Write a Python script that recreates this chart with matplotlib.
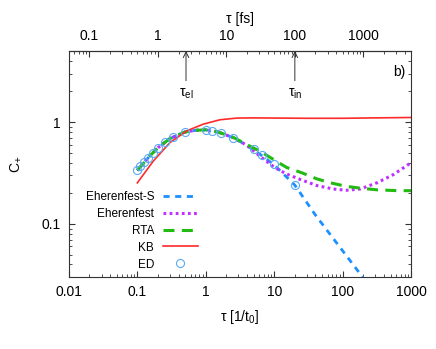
import matplotlib
matplotlib.use("Agg")
import matplotlib.pyplot as plt
import numpy as np

plt.rcParams['font.family'] = ['Liberation Sans', 'DejaVu Sans']
plt.rcParams['mathtext.fontset'] = 'custom'
plt.rcParams['mathtext.rm'] = 'Liberation Sans'

# ED (exact diagonalization) points
tau_ed = [0.1, 0.111, 0.125, 0.143, 0.167, 0.2, 0.25, 0.333, 0.5, 1.0,
          1.25, 1.667, 2.5, 5.0, 6.667, 10.0, 20.0]
c_ed = [0.335, 0.369, 0.405, 0.447, 0.501, 0.561, 0.638, 0.716, 0.80, 0.84,
        0.82, 0.79, 0.705, 0.54, 0.47, 0.384, 0.243]

# Eherenfest-S
tau_ehs = [0.1, 0.15, 0.2, 0.3, 0.5, 0.7, 1.0, 1.5, 2.5, 4.0, 6.0, 10.0,
           20.0, 40.0, 90.0, 220.0]
c_ehs = [0.335, 0.46, 0.56, 0.69, 0.80, 0.83, 0.84, 0.80, 0.705, 0.59,
         0.49, 0.38, 0.24, 0.122, 0.0596, 0.027]

# Eherenfest
tau_eh = [0.1, 0.15, 0.2, 0.3, 0.5, 0.7, 1.0, 1.5, 2.5, 4.0, 6.0, 10.0,
          15.0, 24.0, 42.0, 73.0, 114.0, 180.0, 315.0, 550.0, 1000.0]
c_eh = [0.335, 0.46, 0.56, 0.69, 0.80, 0.83, 0.84, 0.80, 0.705, 0.59,
        0.47, 0.36, 0.31, 0.273, 0.238, 0.22, 0.214, 0.22, 0.253, 0.305, 0.40]

# RTA
tau_rta = [0.1, 0.15, 0.2, 0.3, 0.5, 0.7, 1.0, 1.5, 2.5, 4.0, 6.35, 9.7,
           15.2, 25.2, 41.8, 66.5, 112.0, 184.0, 321.0, 631.0, 1000.0]
c_rta = [0.335, 0.46, 0.56, 0.69, 0.80, 0.83, 0.84, 0.80, 0.71, 0.60,
         0.513, 0.43, 0.358, 0.318, 0.277, 0.253, 0.234, 0.224, 0.216, 0.212, 0.212]

# KB
tau_kb = [0.1, 0.171, 0.3, 0.526, 0.92, 1.61, 2.83, 5.0, 12.0, 30.0, 100.0,
          300.0, 1000.0]
c_kb = [0.253, 0.414, 0.63, 0.82, 0.955, 1.054, 1.095, 1.10, 1.095, 1.09,
        1.09, 1.10, 1.11]

xticks = [0.01, 0.1, 1, 10, 100, 1000]
xticklabels = ['0.01', '0.1', '1', '10', '100', '1000']
yticks = [0.1, 1]
yticklabels = ['0.1', '1']
fs_ticks = [0.1, 1, 10, 100, 1000]
fs_ticklabels = ['0.1', '1', '10', '100', '1000']
fs_per_t0 = 5.0

tau_el = 0.514
tau_in = 20.0

fig = plt.figure(figsize=(4.36, 3.49), dpi=100)
ax = fig.add_axes([0.158, 0.206, 0.785, 0.648])

ax.plot(tau_ehs, c_ehs, color='#1e8fff', lw=2.0, dashes=(2.2, 2.0),
        label='Eherenfest-S')
ax.plot(tau_eh, c_eh, color='#c030ff', lw=2.2, dashes=(0.9, 1.1),
        label='Eherenfest')
ax.plot(tau_rta, c_rta, color='#22bb11', lw=2.2, dashes=(3.6, 2.4),
        label='RTA')
ax.plot(tau_kb, c_kb, color='#ff2a2a', lw=1.2, label='KB')
ax.plot(tau_ed, c_ed, ls='none', marker='o', ms=5.8, mfc='none',
        mec='#5aaaf5', mew=0.8, label='ED')

ax.set_xscale('log')
ax.set_yscale('log')
ax.set_xlim(0.01, 1000)
ax.set_ylim(0.03, 5)
ax.set_xticks(xticks, xticklabels)
ax.set_yticks(yticks, yticklabels)
ax.tick_params(which='both', direction='in', top=False, right=True,
               labelsize=10, color='#333333', pad=6)
ax.tick_params(which='major', length=4)
ax.tick_params(which='minor', length=2, labelbottom=False, labelleft=False)
for s in ax.spines.values():
    s.set_color('#333333')
    s.set_linewidth(0.8)

ax.set_xlabel('τ [1/t$_\\mathregular{0}$]', fontsize=10, labelpad=6)
ax.set_ylabel('C$_\\mathregular{+}$', fontsize=10, labelpad=13)

sec = ax.secondary_xaxis('top', functions=(lambda x: x * fs_per_t0,
                                           lambda x: x / fs_per_t0))
sec.set_xticks(fs_ticks, fs_ticklabels)
sec.tick_params(which='both', direction='in', labelsize=10,
                color='#333333', pad=6)
sec.tick_params(which='major', length=4)
sec.tick_params(which='minor', length=2)
sec.set_xlabel('τ [fs]', fontsize=10, labelpad=4)

for t, lab in [(tau_el, 'τ$_\\mathregular{el}$'), (tau_in, 'τ$_\\mathregular{in}$')]:
    ax.annotate('', xy=(t, 5), xytext=(t, 2.55),
                arrowprops=dict(arrowstyle='->', color='#333333', lw=0.7,
                                shrinkA=0, shrinkB=0))
    ax.text(t, 1.88, lab, fontsize=10, ha='center', va='center')

ax.text(0.982, 0.907, 'b)', transform=ax.transAxes, fontsize=10,
        ha='right', va='center')

ax.legend(loc='upper right', bbox_to_anchor=(0.377, 0.382), frameon=False,
          markerfirst=False, fontsize=8.5, handlelength=3.0,
          handletextpad=0.7, labelspacing=0.42, borderpad=0,
          borderaxespad=0, numpoints=1)

fig.savefig('out.png', dpi=100)
